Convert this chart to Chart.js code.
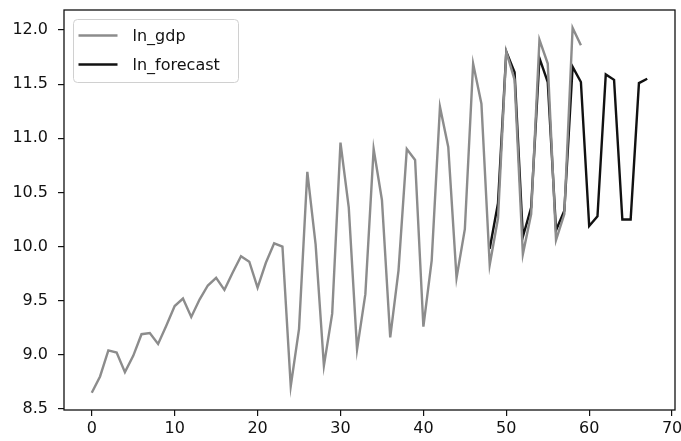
<!DOCTYPE html>
<html>
<head>
<meta charset="utf-8">
<script src="https://cdn.jsdelivr.net/npm/chart.js@4"></script>
<style>
  html, body { margin: 0; padding: 0; background: #fff; }
  #wrap { width: 681px; height: 441px; }
</style>
</head>
<body>
<div id="wrap"><canvas id="chart" width="681" height="441"></canvas></div>
<script>
// series
const gdpStart = 0;
const lnGdp = [8.65, 8.80, 9.04, 9.02, 8.84, 8.99, 9.19, 9.20, 9.10, 9.27,
  9.45, 9.52, 9.35, 9.51, 9.64, 9.71, 9.60, 9.76, 9.91, 9.86,
  9.62, 9.85, 10.03, 10.00, 8.71, 9.24, 10.69, 10.02, 8.90, 9.38,
  10.96, 10.36, 9.05, 9.56, 10.90, 10.43, 9.16, 9.78, 10.90, 10.80,
  9.26, 9.87, 11.29, 10.92, 9.71, 10.16, 11.69, 11.32, 9.83, 10.26,
  11.80, 11.54, 9.93, 10.30, 11.91, 11.69, 10.06, 10.30, 12.02, 11.86];
const forecastStart = 48;
const lnForecast = [9.98, 10.40, 11.80, 11.61, 10.09, 10.36, 11.74, 11.52, 10.15, 10.33,
  11.66, 11.52, 10.19, 10.28, 11.59, 11.54, 10.25, 10.25, 11.51, 11.55];
const seriesNames = ['ln_gdp', 'ln_forecast'];
const xTicks = [0, 10, 20, 30, 40, 50, 60, 70];
const yTicks = [8.5, 9.0, 9.5, 10.0, 10.5, 11.0, 11.5, 12.0];

const toPoints = (start, arr) => arr.map((v, i) => ({ x: start + i, y: v }));

const tickFont = { family: 'DejaVu Sans', size: 16 };

// box around the plot + legend in the upper left
const framePlugin = {
  id: 'frame',
  afterDraw(chart) {
    const ctx = chart.ctx;
    const a = chart.chartArea;
    ctx.save();
    ctx.strokeStyle = '#111';
    ctx.lineWidth = 1.3;
    ctx.strokeRect(a.left, a.top, a.right - a.left, a.bottom - a.top);

    // legend
    const bx = a.left + 9.5, by = a.top + 9.5, bw = 165, bh = 63;
    ctx.beginPath();
    ctx.roundRect(bx, by, bw, bh, 4);
    ctx.fillStyle = 'rgba(255,255,255,0.8)';
    ctx.fill();
    ctx.strokeStyle = '#d0d0d0';
    ctx.lineWidth = 1;
    ctx.stroke();
    ctx.font = '16px "DejaVu Sans"';
    ctx.textBaseline = 'middle';
    chart.data.datasets.forEach((ds, i) => {
      const y = by + 16 + i * 29;
      ctx.beginPath();
      ctx.moveTo(bx + 5, y);
      ctx.lineTo(bx + 44, y);
      ctx.strokeStyle = ds.borderColor;
      ctx.lineWidth = 2.4;
      ctx.stroke();
      ctx.fillStyle = '#111';
      ctx.fillText(ds.label, bx + 59, y + 1);
    });
    ctx.restore();
  }
};

new Chart(document.getElementById('chart'), {
  type: 'line',
  data: {
    datasets: [
      {
        label: seriesNames[0],
        data: toPoints(gdpStart, lnGdp),
        borderColor: '#8c8c8c',
        borderWidth: 2.4,
        pointRadius: 0,
        tension: 0,
        fill: false
      },
      {
        label: seriesNames[1],
        data: toPoints(forecastStart, lnForecast),
        borderColor: '#111111',
        borderWidth: 2.4,
        pointRadius: 0,
        tension: 0,
        fill: false
      }
    ]
  },
  options: {
    responsive: false,
    animation: false,
    layout: { padding: { left: 0, top: 10, right: 6, bottom: 0 } },
    plugins: {
      legend: { display: false },
      tooltip: { enabled: false }
    },
    scales: {
      x: {
        type: 'linear',
        min: -3.35,
        max: 70.35,
        afterBuildTicks: s => { s.ticks = xTicks.map(v => ({ value: v })); },
        afterFit: s => { s.height = 31; s.paddingLeft = 0; s.paddingRight = 0; },
        grid: { drawOnChartArea: false, drawTicks: true, tickLength: 6, color: '#111', lineWidth: 1.2 },
        border: { display: false },
        ticks: { color: '#111', font: tickFont, padding: 3, maxRotation: 0, callback: v => String(v) }
      },
      y: {
        type: 'linear',
        min: 8.49,
        max: 12.185,
        afterBuildTicks: s => { s.ticks = yTicks.map(v => ({ value: v })); },
        afterFit: s => { s.width = 64; s.paddingTop = 0; s.paddingBottom = 0; },
        grid: { drawOnChartArea: false, drawTicks: true, tickLength: 6, color: '#111', lineWidth: 1.2 },
        border: { display: false },
        ticks: { color: '#111', font: tickFont, padding: 10, callback: v => Number(v).toFixed(1) }
      }
    }
  },
  plugins: [framePlugin]
});
</script>
</body>
</html>
